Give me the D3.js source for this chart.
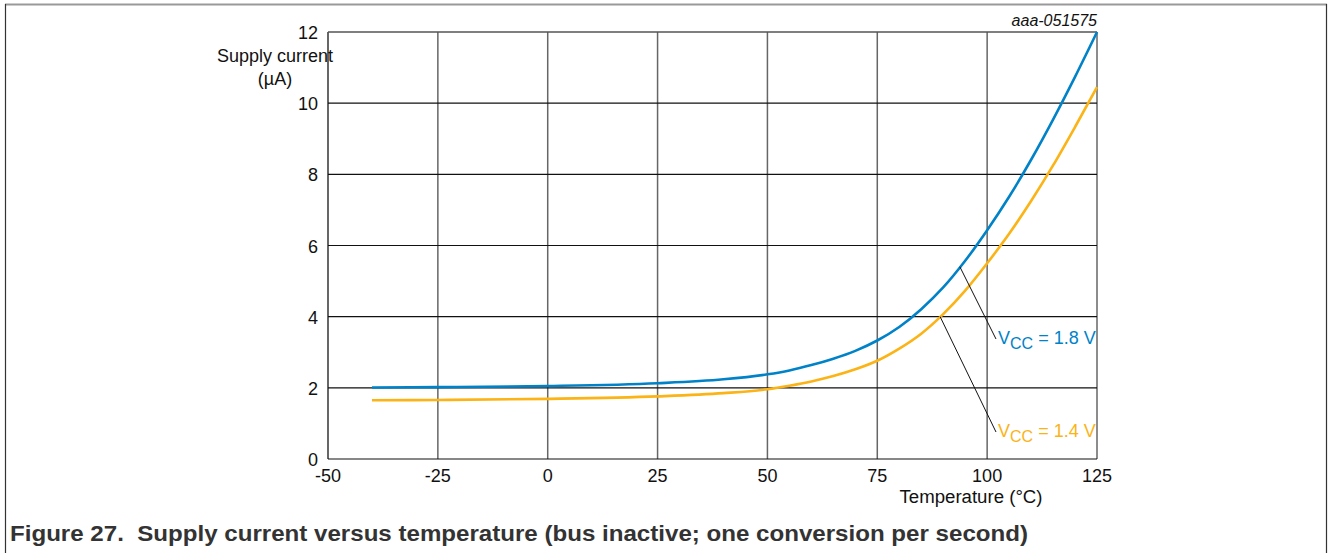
<!DOCTYPE html>
<html><head><meta charset="utf-8">
<script src="https://cdn.jsdelivr.net/npm/d3@7"></script>
<style>body{margin:0;background:#fff;font-family:"Liberation Sans",Arial,sans-serif}</style>
</head><body><svg id="c" width="1328" height="553"></svg>
<script>
const xTicks = [-50, -25, 0, 25, 50, 75, 100, 125];
const yTicks = [0, 2, 4, 6, 8, 10, 12];
const temps18 = [-40, -25, 0, 25, 40, 50, 55, 60, 65, 70, 75, 80, 85, 90, 95, 100, 105, 110, 115, 120, 125];
const vcc18 = [2.01, 2.02, 2.05, 2.13, 2.24, 2.38, 2.49, 2.64, 2.82, 3.04, 3.33, 3.71, 4.21, 4.82, 5.57, 6.43, 7.37, 8.41, 9.54, 10.74, 12.0];
const temps14 = [-40, -25, 0, 25, 40, 50, 55, 60, 65, 70, 75, 80, 85, 90, 95, 100, 105, 110, 115, 120, 125];
const vcc14 = [1.65, 1.66, 1.69, 1.76, 1.85, 1.96, 2.06, 2.18, 2.33, 2.52, 2.76, 3.1, 3.52, 4.07, 4.73, 5.5, 6.33, 7.25, 8.25, 9.33, 10.45];
const seriesNames = ["1.8 V", "1.4 V"];
const colors = ["#0082c8", "#fbb316"];

const svg = d3.select("#c");
const x = d3.scaleLinear().domain([-50, 125]).range([328, 1097]);
const y = d3.scaleLinear().domain([0, 12]).range([459, 32]);

// frame
svg.append("line").attr("x1",5).attr("x2",1327).attr("y1",4.5).attr("y2",4.5).attr("stroke","#999").attr("stroke-width",2);
svg.append("line").attr("x1",5.5).attr("x2",5.5).attr("y1",4).attr("y2",553).attr("stroke","#333").attr("stroke-width",1.2);
svg.append("line").attr("x1",1326.5).attr("x2",1326.5).attr("y1",4).attr("y2",553).attr("stroke","#333").attr("stroke-width",1.2);

// grid
svg.append("g").selectAll("line").data(xTicks).join("line")
  .attr("x1",d=>x(d)).attr("x2",d=>x(d)).attr("y1",y(0)).attr("y2",y(12))
  .attr("stroke",d=>d===-50?"#000":"#666").attr("stroke-width",d=>d===-50?1.2:1.5);
svg.append("g").selectAll("line").data(yTicks).join("line")
  .attr("x1",x(-50)).attr("x2",x(125)).attr("y1",d=>y(d)).attr("y2",d=>y(d))
  .attr("stroke",d=>d===12?"#555":"#111").attr("stroke-width",d=>d===12?1.5:1.2);

const T = "#111";
// tick labels
svg.append("g").selectAll("text").data(yTicks).join("text")
  .attr("x",318).attr("y",d=>y(d)+7).attr("text-anchor","end")
  .attr("font-size",18).attr("fill",T).text(d=>d);
svg.append("g").selectAll("text").data(xTicks).join("text")
  .attr("x",d=>x(d)).attr("y",482).attr("text-anchor","middle")
  .attr("font-size",18).attr("fill",T).text(d=>d);

svg.append("text").attr("x",275).attr("y",62).attr("text-anchor","middle").attr("font-size",18).attr("fill",T).text("Supply current");
svg.append("text").attr("x",275).attr("y",85).attr("text-anchor","middle").attr("font-size",18).attr("fill",T).text("(µA)");
svg.append("text").attr("x",971).attr("y",503).attr("text-anchor","middle").attr("font-size",18).attr("fill",T)
  .attr("textLength",143).attr("lengthAdjust","spacingAndGlyphs").text("Temperature (°C)");
svg.append("text").attr("x",1097).attr("y",26).attr("text-anchor","end").attr("font-size",16).attr("font-style","italic").attr("fill",T).text("aaa-051575");

// curves
const line = d3.line().x(d=>x(d[0])).y(d=>y(d[1])).curve(d3.curveMonotoneX);
const data = [d3.zip(temps18, vcc18), d3.zip(temps14, vcc14)];
svg.append("g").selectAll("path").data(data).join("path")
  .attr("d",line).attr("fill","none").attr("stroke",(d,i)=>colors[i]).attr("stroke-width",2.6);

// leaders & labels
const leaders = [
  {p:[93.8,5.4], end:[996,339], ty:344},
  {p:[89.3,4.0], end:[996,432], ty:437}
];
leaders.forEach((l,i)=>{
  svg.append("line").attr("x1",x(l.p[0])).attr("y1",y(l.p[1])).attr("x2",l.end[0]).attr("y2",l.end[1])
    .attr("stroke","#111").attr("stroke-width",1);
  const t = svg.append("text").attr("x",998).attr("y",l.ty).attr("font-size",18).attr("fill",colors[i]);
  t.append("tspan").text("V");
  t.append("tspan").attr("font-size",16).attr("dy",5).text("CC");
  t.append("tspan").attr("dy",-5).text(" = " + seriesNames[i]);
});

// caption
svg.append("text").attr("x",10).attr("y",541).attr("font-size",22).attr("font-weight","bold").attr("fill","#333")
  .attr("xml:space","preserve").style("white-space","pre")
  .attr("textLength",1018).attr("lengthAdjust","spacingAndGlyphs")
  .text("Figure 27.  Supply current versus temperature (bus inactive; one conversion per second)");
</script></body></html>
